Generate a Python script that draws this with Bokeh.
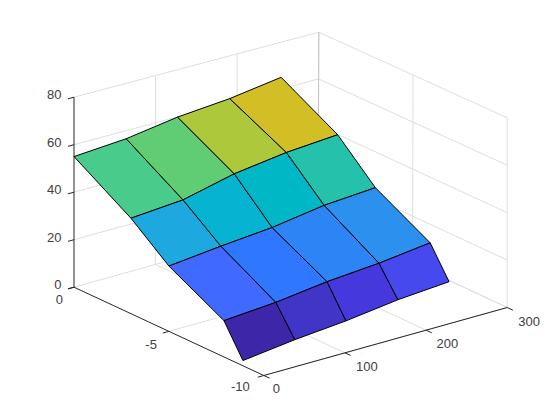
from bokeh.plotting import figure
from bokeh.models import ColumnDataSource, Range1d
from bokeh.core.properties import value
from bokeh.embed import file_html
from bokeh.resources import INLINE

# ---- chart data ----
x_values = [0, 64, 127, 191, 254]
y_values = [0, -3, -5, -7.9, -8.9]
z_rows = [
    [55.0, 56.6, 59.9, 61.8, 65.0],
    [40.2, 41.9, 47.0, 50.0, 51.6],
    [27.5, 29.8, 31.7, 35.0, 36.5],
    [15.3, 16.9, 19.6, 21.3, 23.9],
    [2.2, 4.9, 6.8, 9.6, 11.2],
]
x_ticks = [0, 100, 200, 300]
y_ticks = [0, -5, -10]
z_ticks = [0, 20, 40, 60, 80]
x_tick_labels = ["0", "100", "200", "300"]
y_tick_labels = ["0", "-5", "-10"]
z_tick_labels = ["0", "20", "40", "60", "80"]
face_colors = [
    ["#49CB8B", "#60CD75", "#ADC83A", "#D1BF25"],
    ["#1EA8E0", "#06B3D0", "#00B8C5", "#25C2AB"],
    ["#4069FF", "#3077FF", "#2D85F5", "#2B90EE"],
    ["#3E26A8", "#4135C8", "#4538DD", "#464AEE"],
]

# ---- view: where the corners of the axes box land on the page ----
X0, X1, Y0, Y1, Z0, Z1 = 0, 300, 0, -10, 0, 80
BOX = {
    (0, 0, 0): (73.5, 286.7), (1, 0, 0): (317.5, 218.5),
    (1, 1, 0): (506.7, 307.0), (0, 1, 0): (263.3, 375.0),
    (0, 0, 1): (73.5, 96.7), (1, 0, 1): (318.3, 31.7),
    (1, 1, 1): (506.7, 117.3), (0, 1, 1): (263.3, 185.0),
}


def project(x, y, z):
    u = (x - X0) / (X1 - X0)
    v = (y - Y0) / (Y1 - Y0)
    w = (z - Z0) / (Z1 - Z0)
    px = py = 0.0
    for (a, b, c), (bx, by) in BOX.items():
        k = (u if a else 1 - u) * (v if b else 1 - v) * (w if c else 1 - w)
        px += k * bx
        py += k * by
    return px, py


def segment(a, b):
    pa, pb = project(*a), project(*b)
    return [pa[0], pb[0]], [pa[1], pb[1]]


p = figure(width=544, height=404, output_backend="svg", toolbar_location=None,
           x_range=Range1d(0, 544), y_range=Range1d(404, 0), min_border=0)
p.axis.visible = False
p.grid.visible = False
p.outline_line_color = None
p.background_fill_color = "white"

# grid on walls and floor
grid = []
for z in z_ticks:
    grid.append(segment((X0, Y0, z), (X1, Y0, z)))
    grid.append(segment((X1, Y0, z), (X1, Y1, z)))
for x in x_ticks[1:]:
    grid.append(segment((x, Y0, Z0), (x, Y0, Z1)))
    grid.append(segment((x, Y0, Z0), (x, Y1, Z0)))
for y in y_ticks[1:]:
    grid.append(segment((X1, y, Z0), (X1, y, Z1)))
    grid.append(segment((X0, y, Z0), (X1, y, Z0)))
p.multi_line([g[0] for g in grid], [g[1] for g in grid], line_color="#DEDEDE", line_width=1)
corner = segment((X1, Y0, Z0), (X1, Y0, Z1))
p.line(corner[0], corner[1], line_color="#C4C4C4", line_width=1)

# axes
AX = "#262626"
lines = [segment((X0, Y0, Z0), (X0, Y0, Z1)),
         segment((X0, Y0, Z0), (X0, Y1, Z0)),
         segment((X0, Y1, Z0), (X1, Y1, Z0))]
for z in z_ticks:
    lines.append(segment((X0, Y0, z), (X0 - 7.4, Y0, z)))
for y in y_ticks:
    lines.append(segment((X0, y, Z0), (X0 - 7.4, y, Z0)))
for x in x_ticks:
    lines.append(segment((x, Y1, Z0), (x, Y1 - 0.3, Z0)))
p.multi_line([g[0] for g in lines], [g[1] for g in lines], line_color=AX, line_width=1)

# surface
xs, ys, cs = [], [], []
for i in range(len(y_values) - 1):
    for j in range(len(x_values) - 1):
        quad = [(j, i), (j + 1, i), (j + 1, i + 1), (j, i + 1)]
        pts = [project(x_values[a], y_values[b], z_rows[b][a]) for a, b in quad]
        xs.append([q[0] for q in pts])
        ys.append([q[1] for q in pts])
        cs.append(face_colors[i][j])
p.patches("xs", "ys", source=ColumnDataSource(dict(xs=xs, ys=ys, c=cs)),
          fill_color="c", line_color="black", line_width=1, line_join="round")


# tick labels
def labels(points, texts, align, dx, dy):
    for q, t, ox, oy in zip(points, texts, dx, dy):
        qx, qy = project(*q)
        p.text([qx], [qy], text=[t], text_align=align, text_baseline="middle",
               x_offset=ox, y_offset=oy, text_font=value("Liberation Sans"),
               text_font_size="13px", text_color="#404040")


labels([(X0, Y0, z) for z in z_ticks], z_tick_labels, "right", [-12.6] * 5, [-2.5] * 5)
labels([(X0, y, Z0) for y in y_ticks], y_tick_labels, "right", [-11, -12, -14], [12.6, 13, 11])
labels([(x, Y1, Z0) for x in x_ticks], x_tick_labels, "left", [9, 11, 10.5, 11], [13.3, 14, 13.5, 14])

open("out.html", "w").write(file_html(p, INLINE))
